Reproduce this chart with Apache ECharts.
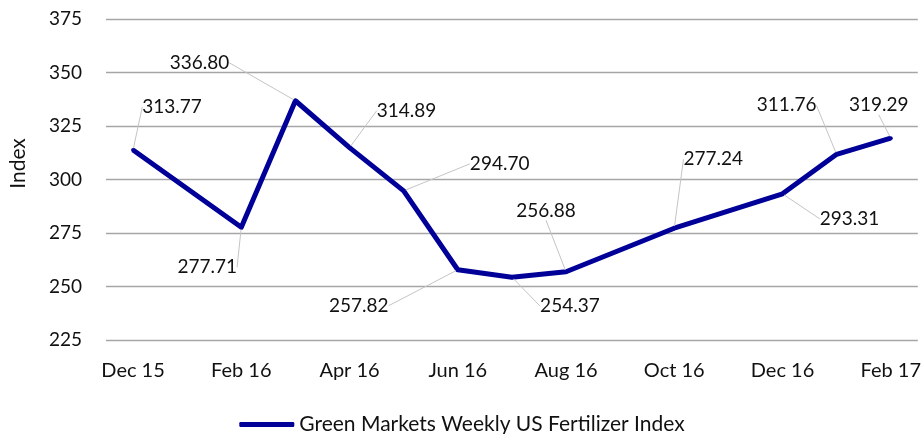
<!DOCTYPE html>
<html>
<head>
<meta charset="utf-8">
<script src="https://cdn.jsdelivr.net/npm/echarts@6/dist/echarts.min.js"></script>
<style>
  html, body { margin: 0; padding: 0; background: #fff; }
  #chart { width: 924px; height: 434px; }
</style>
</head>
<body>
<div id="chart"></div>
<script>
// Monthly index readings (months without a reading are left empty and bridged)
const months = ['Dec 15', 'Jan 16', 'Feb 16', 'Mar 16', 'Apr 16', 'May 16', 'Jun 16',
  'Jul 16', 'Aug 16', 'Sep 16', 'Oct 16', 'Nov 16', 'Dec 16', 'Jan 17', 'Feb 17'];
const indexValues = [313.77, null, 277.71, 336.80, 314.89, 294.70, 257.82,
  254.37, 256.88, null, 277.24, null, 293.31, 311.76, 319.29];
const seriesName = 'Green Markets Weekly US Fertilizer Index';
const yTicks = { min: 225, max: 375, step: 25 };

// Where each value label sits relative to its point
const labelOffsets = [[39, -43], null, [-34, 40], [-96, -38], [57, -37], [96, -27], [-99, 36],
  [58, 29], [-20, -61], null, [39, -69], null, [67, 25], [-50, -49], [-12, -33]];

const FONT = 'Lato, "Noto Sans", sans-serif';
const TEXT = '#111';
const chart = echarts.init(document.getElementById('chart'));

chart.setOption({
  animation: false,
  grid: { left: 106, right: 6, top: 19, bottom: 94 },
  legend: {
    top: 409,
    left: 'center',
    itemWidth: 55,
    itemHeight: 5,
    itemGap: 6,
    icon: 'roundRect',
    textStyle: { fontFamily: FONT, fontSize: 21, color: TEXT, letterSpacing: 1.1 },
    data: [seriesName]
  },
  xAxis: {
    type: 'category',
    data: months,
    boundaryGap: true,
    axisLine: { show: false },
    axisTick: { show: false },
    axisLabel: {
      interval: 1,
      margin: 21,
      fontFamily: FONT,
      fontSize: 20,
      color: TEXT,
      letterSpacing: 0.5
    }
  },
  yAxis: {
    type: 'value',
    min: yTicks.min,
    max: yTicks.max,
    interval: yTicks.step,
    name: 'Index',
    nameLocation: 'middle',
    nameGap: 77,
    nameTextStyle: { fontFamily: FONT, fontSize: 21, color: TEXT, padding: [0, 0, 0, 32] },
    axisLine: { show: false },
    axisTick: { show: false },
    axisLabel: { margin: 24, fontFamily: FONT, fontSize: 19, color: TEXT },
    splitLine: { lineStyle: { color: '#a6a6a6', width: 1.3 } }
  },
  series: [{
    name: seriesName,
    type: 'line',
    data: indexValues,
    connectNulls: true,
    showSymbol: true,
    symbol: 'circle',
    symbolSize: 4,
    itemStyle: { color: '#000099' },
    lineStyle: { color: '#000099', width: 5, join: 'round' },
    label: {
      show: true,
      position: 'inside',
      formatter: p => p.value.toFixed(2),
      fontFamily: FONT,
      fontSize: 19,
      color: TEXT,
      padding: [3, 6]
    },
    labelLine: {
      show: true,
      lineStyle: { color: '#c4c4c4', width: 1 }
    },
    labelLayout: p => {
      const o = labelOffsets[p.dataIndex];
      return o ? { dx: o[0], dy: o[1] } : {};
    }
  }]
});
</script>
</body>
</html>
